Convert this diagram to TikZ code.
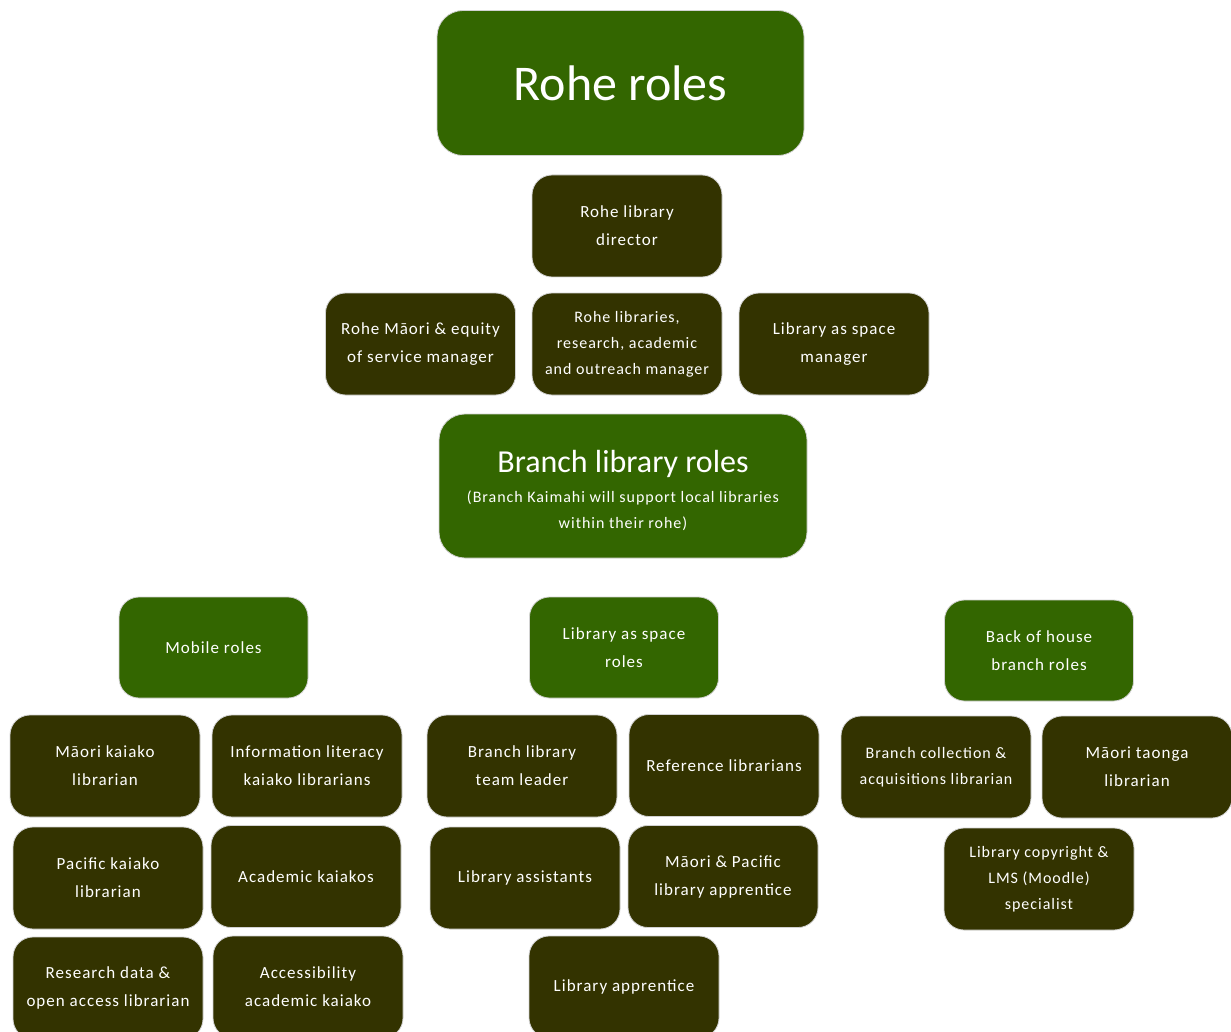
\documentclass[tikz,border=0pt]{standalone}
\usepackage{fontspec}
\setmainfont{Carlito}
\newfontfamily\boxfont[LetterSpace=6]{Carlito}
\definecolor{leafgreen}{HTML}{336600}
\definecolor{darkolive}{HTML}{333300}
\begin{document}
\begin{tikzpicture}[x=1pt,y=-1pt,
  rolebox/.style={rounded corners=20pt,draw=gray!35,line width=0.8pt,
    text=white,align=center,inner sep=0pt,
    minimum width=190pt,minimum height=102pt,
    font=\boxfont\fontsize{17}{28}\selectfont},
  headbox/.style={rolebox,fill=leafgreen},
  staffbox/.style={rolebox,fill=darkolive},
  tight/.style={font=\boxfont\fontsize{16}{26}\selectfont}]
\useasboundingbox (0,0) rectangle (1231,1032);
\clip (0,0) rectangle (1231,1032);

% Rohe level
\node[headbox,rounded corners=26pt,minimum width=367pt,minimum height=145pt,
  font=\fontsize{50}{54}\selectfont] (rohe) at (620.5,83) {Rohe roles};
\node[staffbox] (director) at (627,226) {Rohe library\\director};
\node[staffbox] (maorieq) at (420.5,344) {Rohe Māori \& equity\\of service manager};
\node[staffbox,tight] (research) at (627,344) {Rohe libraries,\\research, academic\\and outreach manager};
\node[staffbox] (spacemgr) at (834,344) {Library as space\\manager};

% Branch level: box, then its two-part caption set a little below centre
\node[headbox,rounded corners=26pt,minimum width=368pt,minimum height=144pt] (branch) at (623,486) {};
\node[text=white,align=center,inner sep=0pt,font=\boxfont\fontsize{16}{26}\selectfont]
  (branchtext) at (623,490)
  {\rmfamily\fontsize{32}{36}\selectfont Branch library roles\\[4pt]
   (Branch Kaimahi will support local libraries\\within their rohe)};

% Mobile roles
\node[headbox,minimum width=189pt,minimum height=101pt] (mobile) at (213.5,647.5) {Mobile roles};
\node[staffbox] (maorikaiako) at (105,766) {Māori kaiako\\librarian};
\node[staffbox] (infolit) at (307,766) {Information literacy\\kaiako librarians};
\node[staffbox] (pacific) at (108,878) {Pacific kaiako\\librarian};
\node[staffbox] (academic) at (306,876.5) {Academic kaiakos};
\node[staffbox] (resdata) at (108,988) {Research data \&\\open access librarian};
\node[staffbox] (access) at (308,987) {Accessibility\\academic kaiako};

% Library as space roles
\node[headbox,minimum width=189pt,minimum height=101pt] (spaceroles) at (624,647.5) {Library as space\\roles};
\node[staffbox] (teamlead) at (522,766) {Branch library\\team leader};
\node[staffbox] (reference) at (724,765.5) {Reference librarians};
\node[staffbox] (assistants) at (525,878) {Library assistants};
\node[staffbox] (mpapprentice) at (723,876.5) {Māori \& Pacific\\library apprentice};
\node[staffbox] (apprentice) at (624,987) {Library apprentice};

% Back of house roles
\node[headbox,minimum width=189pt,minimum height=101pt] (backhouse) at (1039,650.5) {Back of house\\branch roles};
\node[staffbox,tight] (collection) at (936,767) {Branch collection \&\\acquisitions librarian};
\node[staffbox] (taonga) at (1137,767) {Māori taonga\\librarian};
\node[staffbox,tight] (copyright) at (1039,879) {Library copyright \&\\LMS (Moodle)\\specialist};
\end{tikzpicture}
\end{document}
